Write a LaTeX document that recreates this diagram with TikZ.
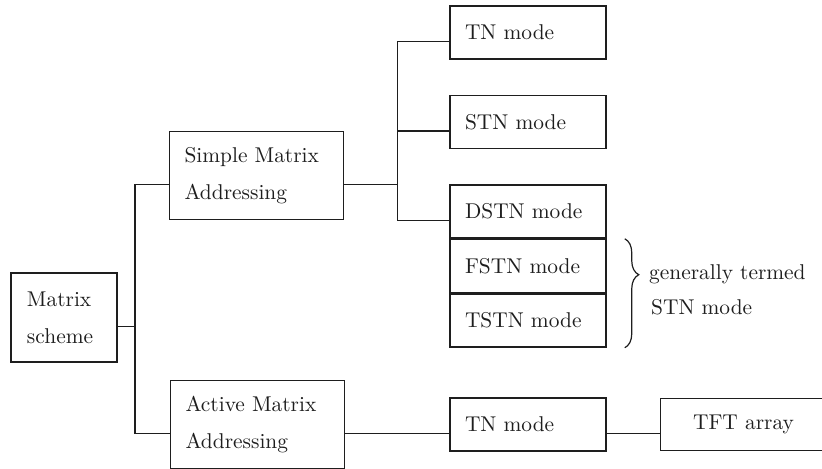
\documentclass[tikz,border=0pt]{standalone}
\usepackage{tikz}
\usetikzlibrary{positioning,decorations.pathreplacing}
\definecolor{scanink}{HTML}{1E1E1E}
\tikzset{
  basebox/.style={
    draw=scanink,
    line width=0.75pt,
    inner xsep=7.5pt,
    align=left,
    text=scanink,
    font=\fontsize{10.7pt}{18.5pt}\selectfont
  },
  rootbox/.style={
    basebox,
    inner xsep=8pt,
    text width=37pt,
    minimum height=44.5pt
  },
  addrbox/.style={
    basebox,
    text width=72pt,
    minimum height=44pt
  },
  modebox/.style={
    basebox,
    text width=63pt,
    minimum height=26.5pt
  },
  tftbox/.style={
    basebox,
    text width=68pt,
    align=center,
    minimum height=26pt
  },
  link/.style={
    draw=scanink,
    line width=0.75pt
  },
  drop/.style={yshift=-4.5pt}
}

\begin{document}
\begin{tikzpicture}
\useasboundingbox (-32pt,-75.25pt) rectangle (379pt,158.75pt);
\node[rootbox] (scheme) at (0,0) {Matrix\\scheme};
\node[addrbox, above right=26pt and 25.5pt of scheme] (simple) {Simple Matrix\\Addressing};
\node[addrbox, below right=8.5pt and 26pt of scheme] (active) {Active Matrix\\Addressing};
\node[modebox, above right=35.5pt and 52.5pt of simple] (tn) {TN mode};
\node[modebox, below=17.5pt of tn] (stn) {STN mode};
\node[modebox, below=17.5pt of stn] (dstn) {DSTN mode};
\node[modebox, below=0pt of dstn] (fstn) {FSTN mode};
\node[modebox, below=0pt of fstn] (tstn) {TSTN mode};
\node[modebox, right=52pt of active] (tnactive) {TN mode};
\node[tftbox, right=26.5pt of tnactive] (tft) {TFT array};
\coordinate (split) at ([xshift=8.5pt, drop]scheme.east);
\coordinate (fork) at ([xshift=26.5pt, drop]simple.east);
\draw[link] ([drop]scheme.east) -- (split);
\draw[link] ([drop]simple.west) -| (split) |- ([drop]active.west);
\draw[link] ([drop]simple.east) -- (fork);
\draw[link] ([drop]tn.west) -| (fork) |- ([drop]dstn.west);
\draw[link] (fork) |- ([drop]stn.west);
\draw[link] ([drop]active.east) -- ([drop]tnactive.west);
\draw[link] ([drop]tnactive.east) -- ([drop]tft.west);
\draw[scanink, line width=0.6pt, decorate, decoration={brace, amplitude=7pt, aspect=0.33}]
  ([xshift=9pt]fstn.north east) -- ([xshift=9pt]tstn.south east);
\node[anchor=north west, align=left, inner sep=0pt, text=scanink,
  font=\fontsize{10.7pt}{17.5pt}\selectfont] (termed)
  at ([xshift=21pt, yshift=-12.5pt]fstn.north east) {generally termed\\\hspace{1pt}STN mode};
\end{tikzpicture}
\end{document}
